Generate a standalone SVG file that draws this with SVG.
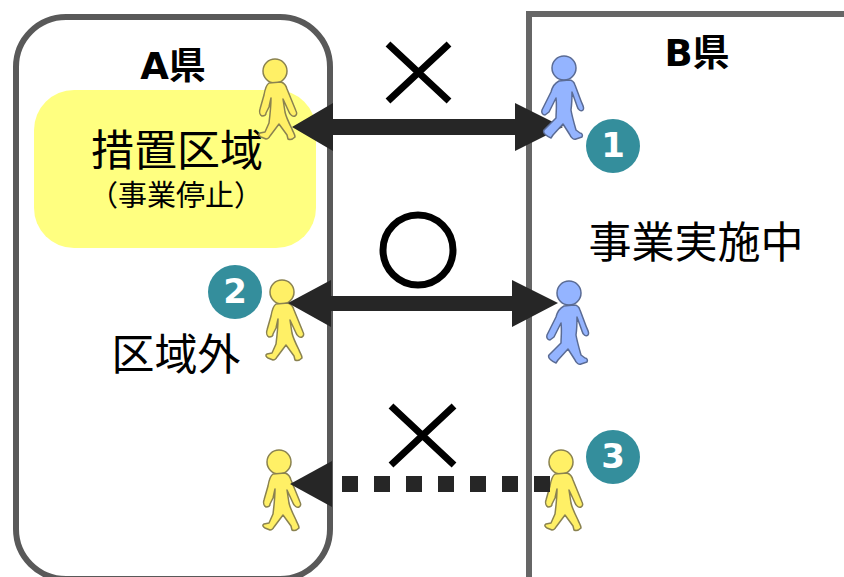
<svg xmlns="http://www.w3.org/2000/svg" width="844" height="577" viewBox="0 0 844 577">
<style>
.t{font-family:"Noto Sans CJK JP","Noto Sans",sans-serif;fill:#000;text-anchor:middle}
.b{font-family:"DejaVu Sans","Noto Sans CJK JP",sans-serif;font-weight:bold}
.c{fill:#348e9c}
.n{font-family:"DejaVu Sans",sans-serif;font-weight:bold;font-size:34px;fill:#fff;text-anchor:middle}
.y{fill:#fff066;stroke:#8a8250;stroke-width:1.5;stroke-linejoin:round}
.u{fill:#94b4ff;stroke:#5a6b94;stroke-width:1.5;stroke-linejoin:round}
.a{fill:#262626}
.x{stroke:#000;fill:none;stroke-width:7}
</style>
<defs>
<g id="py"><circle cx="0" cy="0" r="12"/><path d="M-6 12C-9 14-10 18-11 24L-15 38C-16 41-15 44-13 45C-11 45-9 44-9 42C-8 40-7 38-6 36L-4 27C-4 35-5 44-6 52L-10 61L-15 62C-17 63-16 65-14 66L-9 68C-7 68-6 67-5 65L4 53L12 64L13 68C15 69 18 68 20 66C20 63 18 61 17 58C14 52 11 46 10 41L8 28L14 41C15 44 18 46 20 45C22 44 22 42 21 40L12 18C11 14 9 12 6 11Z"/></g>
<g id="pb"><circle cx="0" cy="0" r="12"/><path d="M-5 13C-9 15-12 20-13 24L-22 42C-23 45-21 47-19 47L-15 44L-8 30C-7 38-8 44-8 50L-20 62C-22 65-16 69-13 70L-11 67L-1 56L6 67C7 70 10 72 12 71L18 69C19 67 18 65 16 65L12 62C10 55 8 48 7 42C8 35 8 30 8 24L13 38C14 42 17 44 19 42C21 40 18 36 17 33L11 17C10 14 8 12 5 12Z"/></g>
</defs>
<rect x="16" y="17" width="314" height="562" rx="50" fill="#fff" stroke="#595959" stroke-width="6"/>
<rect x="529" y="14" width="340" height="600" fill="#fff" stroke="#666" stroke-width="6"/>
<rect x="34" y="90" width="282" height="158" rx="40" fill="#ffff80"/>
<g id="label-a"><text class="t b" x="173" y="79" font-size="37">A県</text></g>
<g id="label-b"><text class="t b" x="697" y="66" font-size="37">B県</text></g>
<g id="zone"><text class="t" x="177" y="166" font-size="43">措置区域</text><text class="t" x="176" y="206" font-size="29">（事業停止）</text></g>
<g id="outside"><text class="t" x="176" y="370" font-size="43">区域外</text></g>
<g id="running"><text class="t" x="696" y="258" font-size="43">事業実施中</text></g>
<g id="person-a1" class="y"><use href="#py" x="275" y="71"/></g>
<g id="person-a2" class="y"><use href="#py" x="282" y="292"/></g>
<g id="person-a3" class="y"><use href="#py" x="279" y="462"/></g>
<g id="person-b3" class="y"><use href="#py" x="561" y="462"/></g>
<g id="connectors">
<path class="a" d="M292 127L333 103V119H515V103L563 127L515 151V135H333V151Z"/>
<path class="a" d="M288 303L331 280V296H512V280L558 303L512 327V311H331V327Z"/>
<path class="a" d="M290 484L332 461V507Z"/>
<path class="a" d="M342 476h16v16h-16zM374 476h16v16h-16zM406 476h16v16h-16zM438 476h16v16h-16zM470 476h16v16h-16zM502 476h16v16h-16zM534 476h16v16h-16z"/>
</g>
<g id="person-b1" class="u"><use href="#pb" x="564" y="68"/></g>
<g id="person-b2" class="u"><use href="#pb" x="569" y="293"/></g>
<g id="mark-x1"><path class="x" d="M388 44L449 101M449 44L388 101"/></g>
<g id="mark-o"><circle class="x" cx="418" cy="250" r="35"/></g>
<g id="mark-x2"><path class="x" d="M391 406L454 465M454 406L391 465"/></g>
<g id="badge-1"><circle class="c" cx="613" cy="146" r="27"/><text class="n" x="613" y="157">1</text></g>
<g id="badge-2"><circle class="c" cx="235" cy="292" r="27"/><text class="n" x="235" y="303">2</text></g>
<g id="badge-3"><circle class="c" cx="613" cy="457" r="27"/><text class="n" x="613" y="468">3</text></g>
</svg>
